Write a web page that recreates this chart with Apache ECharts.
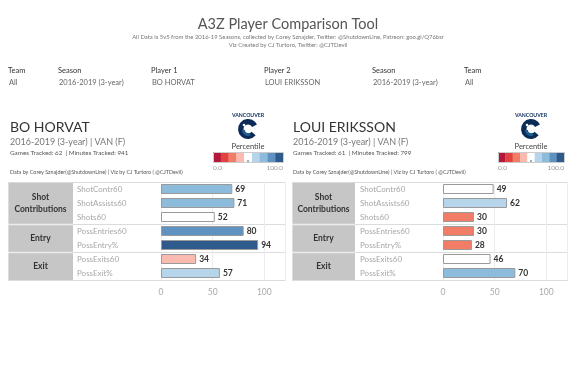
<!DOCTYPE html>
<html>
<head>
<meta charset="utf-8">
<script src="https://cdn.jsdelivr.net/npm/echarts@6/dist/echarts.min.js"></script>
<style>
html,body{margin:0;padding:0;background:#fff;}
#c{width:575px;height:392px;}
</style>
</head>
<body>
<div id="c"></div>
<script>
// ---- data ----
const metrics = ['ShotContr60','ShotAssists60','Shots60','PossEntries60','PossEntry%','PossExits60','PossExit%'];
const groupNames = ['Shot\nContributions','Entry','Exit'];
const groupSizes = [3,2,2];
const player1Values = [69,71,52,80,94,34,57];
const player2Values = [49,62,30,30,28,46,70];
const xTicks = [0,50,100];
const legendColors = ['#b3173b','#e1413f','#f27d67','#fbbab0','#ffffff','#b6d5eb','#8dbbdc','#5f92c1','#2e5b8b'];

const FONT = 'Lato, "Open Sans", sans-serif';
const chart = echarts.init(document.getElementById('c'));

function colorFor(v){
  const idx = Math.min(8, Math.floor(v / (100/9)));
  return legendColors[idx];
}

// layout
const TOP = 182, ROWS = metrics.length, ROWH = 14, H = ROWS*ROWH;
const panels = [
  {boxL:8, grayR:73, axisL:161, boxR:285, labelX:77, vals:player1Values},
  {boxL:292, grayR:355, axisL:443, boxR:567, labelX:360, vals:player2Values}
];

const grids=[], xAxes=[], yAxes=[], series=[], graphic=[];
panels.forEach((p,i)=>{
  grids.push({left:p.axisL, width:p.boxR-p.axisL, top:TOP, height:H});
  xAxes.push({type:'value', gridIndex:i, min:0, max:120, interval:50,
    axisLine:{show:false}, axisTick:{show:false},
    splitLine:{show:true, lineStyle:{color:'#ececec', width:1}},
    axisLabel:{color:'#aaa', fontSize:8.5, fontFamily:FONT, margin:8, showMaxLabel:false,
      formatter:v=> xTicks.indexOf(v)>=0 ? String(v) : ''}});
  yAxes.push({type:'category', gridIndex:i, data:metrics, inverse:true,
    axisLine:{show:false}, axisTick:{show:false},
    axisLabel:{align:'left', margin:p.axisL-p.labelX, color:'#a8a8a8', fontSize:8, fontFamily:FONT}});
  series.push({type:'bar', xAxisIndex:i, yAxisIndex:i, barWidth:10, z:5,
    data:p.vals.map(v=>({value:v, itemStyle:{color:colorFor(v)}})),
    itemStyle:{borderColor:'#9a9a9a', borderWidth:1},
    label:{show:true, position:'right', distance:3, color:'#333', fontWeight:'bold', fontSize:8.5, fontFamily:FONT},
    silent:true});

  // box background pieces
  graphic.push({type:'rect', z:-10, shape:{x:p.boxL, y:TOP, width:p.grayR-p.boxL, height:H}, style:{fill:'#c6c6c6'}});
  graphic.push({type:'rect', z:-9, shape:{x:p.boxL+0.5, y:TOP+0.5, width:p.boxR-p.boxL, height:H}, style:{fill:'none', stroke:'#dcdcdc', lineWidth:1}});
  let r=0;
  groupSizes.forEach((n,g)=>{
    const y0 = TOP + r*ROWH, y1 = TOP + (r+n)*ROWH;
    graphic.push({type:'text', z:10, style:{text:groupNames[g], x:(p.boxL+p.grayR)/2, y:(y0+y1)/2, textAlign:'center', textVerticalAlign:'middle', fill:'#333', fontSize:8.5, fontWeight:'bold', fontFamily:FONT, lineHeight:12}});
    if(g>0){
      graphic.push({type:'line', z:-8, shape:{x1:p.boxL, y1:y0+0.5, x2:p.grayR, y2:y0+0.5}, style:{stroke:'#ececec', lineWidth:1.5}});
      graphic.push({type:'line', z:-8, shape:{x1:p.grayR, y1:y0+0.5, x2:p.boxR, y2:y0+0.5}, style:{stroke:'#dcdcdc', lineWidth:1}});
    }
    r+=n;
  });
});

// header texts
function txt(t,x,y,size,color,extra){
  graphic.push({type:'text', z:20, style:Object.assign({text:t, x:x, y:y, fontSize:size, fill:color, fontFamily:FONT, textVerticalAlign:'middle'}, extra||{})});
}
txt('A3Z Player Comparison Tool',288,24,14.5,'#555',{textAlign:'center'});
txt('All Data is 5v5 from the 2016-19 Seasons, collected by Corey Sznajder, Twitter: @ShutdownLine, Patreon: goo.gl/Q76bsr',288,37,5.9,'#777',{textAlign:'center'});
txt('Viz Created by CJ Turtoro, Twitter: @CJTDevil',288,45,5.9,'#777',{textAlign:'center'});

const filters = [['Team','All',8],['Season','2016-2019 (3-year)',58],['Player 1','BO HORVAT',151],['Player 2','LOUI ERIKSSON',264],['Season','2016-2019 (3-year)',372],['Team','All',464]];
filters.forEach(f=>{ txt(f[0],f[2],71,7.5,'#333'); txt(f[1],f[2]+1,83,7.5,'#666'); });

const players = [
  {name:'BO HORVAT', x:10, games:'Games Tracked: 62  | Minutes Tracked: 941', legX:213, legW:70},
  {name:'LOUI ERIKSSON', x:293, games:'Games Tracked: 61  | Minutes Tracked: 799', legX:498, legW:66}
];
players.forEach(pl=>{
  txt(pl.name, pl.x, 127, 14, '#333');
  txt('2016-2019 (3-year) | VAN (F)', pl.x, 142, 9, '#777');
  txt(pl.games, pl.x, 153, 6.3, '#555');
  txt('Data by Corey Sznajder(@ShutdownLine) | Viz by CJ Turtoro ( @CJTDevil)', pl.x, 172, 5.4, '#555');
  // legend
  const cw = pl.legW/legendColors.length;
  legendColors.forEach((c,k)=>{
    graphic.push({type:'rect', z:20, shape:{x:pl.legX+k*cw, y:152, width:cw+0.3, height:10}, style:{fill:c}});
  });
  graphic.push({type:'rect', z:21, shape:{x:pl.legX+0.5, y:152.5, width:pl.legW, height:10}, style:{fill:'none', stroke:'#ccc', lineWidth:1}});
  graphic.push({type:'line', z:22, shape:{x1:pl.legX+pl.legW/2, y1:160, x2:pl.legX+pl.legW/2, y2:162}, style:{stroke:'#555', lineWidth:1}});
  txt('Percentile', pl.legX+pl.legW/2, 147, 7.5, '#444', {textAlign:'center'});
  txt('0.0', pl.legX, 168, 6.5, '#999');
  txt('100.0', pl.legX+pl.legW, 168, 6.5, '#999', {textAlign:'right'});
  // logo
  const cx = pl.legX+pl.legW/2, cy = 129;
  txt('VANCOUVER', cx, 115, 5.2, '#0b2a5a', {textAlign:'center', fontWeight:'bold'});
  graphic.push({type:'sector', z:20, shape:{cx:cx, cy:cy, r:10, r0:4.5, startAngle:Math.PI*0.22, endAngle:Math.PI*1.85}, style:{fill:'#0d2b57'}});
  graphic.push({type:'sector', z:21, shape:{cx:cx, cy:cy+1, r:6, r0:3, startAngle:Math.PI*0.35, endAngle:Math.PI*1.0}, style:{fill:'#1f5e8f'}});
  graphic.push({type:'circle', z:22, shape:{cx:cx-4, cy:cy-4, r:1.3}, style:{fill:'#fff'}});
});

chart.setOption({
  backgroundColor:'#fff',
  animation:false,
  grid:grids, xAxis:xAxes, yAxis:yAxes, series:series,
  graphic:{elements:graphic}
});
</script>
</body>
</html>
